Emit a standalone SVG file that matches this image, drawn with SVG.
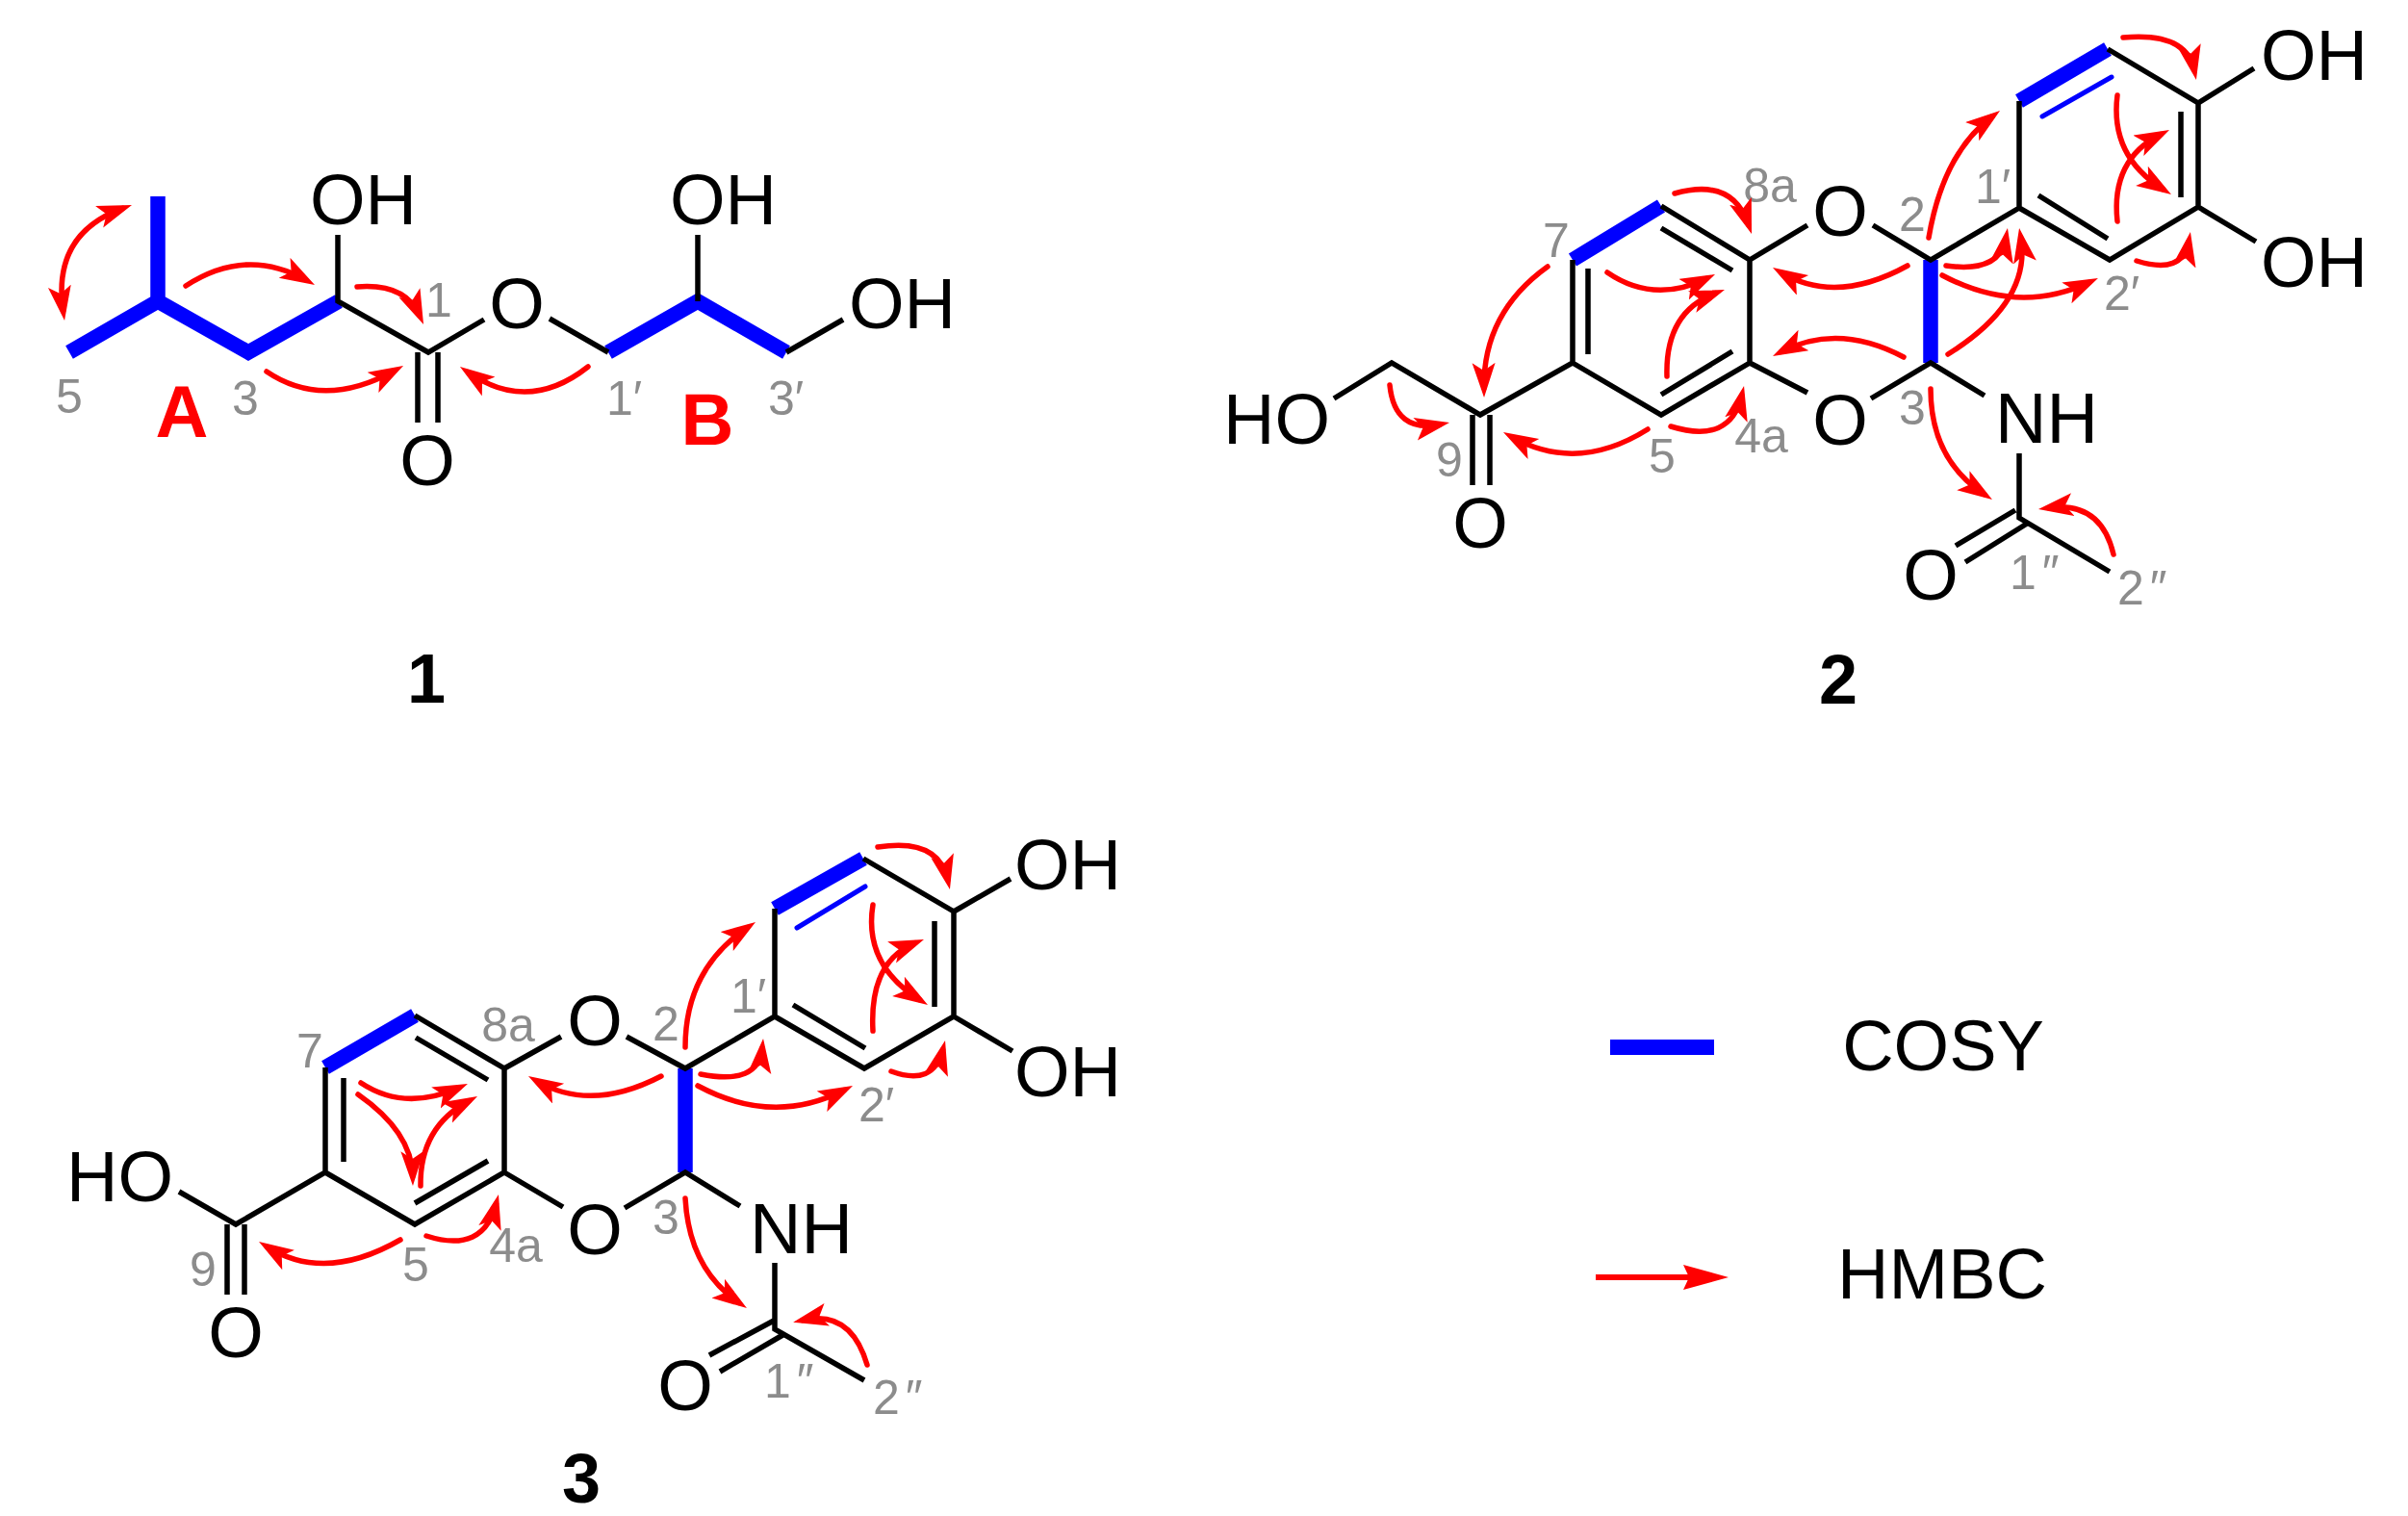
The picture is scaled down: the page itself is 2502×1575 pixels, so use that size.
<svg xmlns="http://www.w3.org/2000/svg" width="2502" height="1575" viewBox="0 0 2502 1575">
<style>
text{font-family:"Liberation Sans",Arial,sans-serif}
.a{font-size:74px;fill:#000}
.g{font-size:50px;fill:#8c8c8c}
.p{letter-spacing:6px}
.n{font-size:72px;font-weight:bold;fill:#000}
.r{font-size:76px;font-weight:bold;fill:#f00}
.k{fill:none;stroke:#000;stroke-width:5.5;stroke-linecap:butt;stroke-linejoin:miter}
.b{fill:none;stroke:#00f;stroke-width:15.5;stroke-linejoin:miter;stroke-linecap:butt}
.t{fill:none;stroke:#00f;stroke-width:5;stroke-linecap:round}
.h{fill:none;stroke:#f00;stroke-width:5.5;stroke-linecap:round;marker-end:url(#ah)}
.d{fill:none;stroke:#f00;stroke-width:5.5;stroke-linecap:round;marker-end:url(#ah);marker-start:url(#ah)}
</style>
<defs>
<marker id="ah" markerUnits="userSpaceOnUse" markerWidth="38" markerHeight="26" refX="26" refY="12" orient="auto-start-reverse"><path d="M36,12 L0,0 L8,12 L0,24 Z" fill="#f00"/></marker>
<marker id="al" markerUnits="userSpaceOnUse" markerWidth="50" markerHeight="28" refX="33" refY="13" orient="auto"><path d="M47,13 L0,0 L6,13 L0,26 Z" fill="#f00"/></marker>
</defs>
<rect width="2502" height="1575" fill="#fff"/>
<g id="compound-1">
<path class="b" d="M164,204V313M72,366L164,313L258,366L352,313M632,366L725,313L817,366"/>
<path class="k" d="M351,244V313L445,366L503,332M434,366V439M455,366V439M571,331L632,366M725,244V313M817,366L876,332"/>
<text class="a" x="322" y="233">OH</text><text class="a" x="696" y="233">OH</text><text class="a" x="882" y="341">OH</text>
<text class="a" x="537" y="341" text-anchor="middle">O</text><text class="a" x="444" y="504" text-anchor="middle">O</text>
<text class="g" x="72" y="429" text-anchor="middle">5</text><text class="g" x="255" y="431" text-anchor="middle">3</text><text class="g" x="456" y="329" text-anchor="middle">1</text><text class="g" x="630" y="431">1′</text><text class="g" x="798" y="431">3′</text>
<text class="r" x="189" y="454" text-anchor="middle">A</text><text class="r" x="735" y="462" text-anchor="middle">B</text>
<text class="n" x="443" y="730" text-anchor="middle">1</text>
</g>
<g id="compound-2">
<path class="b" d="M2006,270V377M1634,270L1726,214M2098,105L2190,51"/>
<path class="t" d="M2122,121L2194,80"/>
<path class="k" d="M1386,414L1446,377L1538,431L1634,377V270M1650,279V368M1726,214L1818,270V377L1726,431L1634,377M1726,237L1800,281M1800,365L1726,410M1818,270L1878,234M1946,234L2006,270L2098,216V105M2190,51L2284,107V215L2192,270L2098,216M2266,116V205M2190,248L2118,203M2284,107L2342,71M2284,215L2344,251M1818,377L1878,408M1944,414L2006,377L2062,411M1530,431V504M1548,431V504M2098,471V538L2192,594M2094,530L2032,567M2106,544L2042,584"/>
<text class="a" x="1271" y="461">HO</text><text class="a" x="1912" y="245" text-anchor="middle">O</text><text class="a" x="1912" y="462" text-anchor="middle">O</text><text class="a" x="2349" y="83">OH</text><text class="a" x="2349" y="298">OH</text><text class="a" x="2073" y="460">NH</text><text class="a" x="1538" y="569" text-anchor="middle">O</text><text class="a" x="2006" y="623" text-anchor="middle">O</text>
<text class="g" x="1839" y="210" text-anchor="middle">8a</text><text class="g" x="1617" y="267" text-anchor="middle">7</text><text class="g" x="1987" y="240" text-anchor="middle">2</text><text class="g" x="2052" y="211">1′</text><text class="g" x="2186" y="322">2′</text><text class="g" x="1987" y="441" text-anchor="middle">3</text><text class="g" x="1830" y="470" text-anchor="middle">4a</text><text class="g" x="1727" y="491" text-anchor="middle">5</text><text class="g" x="1506" y="495" text-anchor="middle">9</text><text class="g p" x="2088" y="612">1″</text><text class="g p" x="2200" y="628">2″</text>
<text class="n" x="1910" y="731" text-anchor="middle">2</text>
</g>
<g id="compound-3">
<path class="b" d="M712,1110V1218M338,1109L431,1055M805,944L897,892"/>
<path class="t" d="M828,964L899,921"/>
<path class="k" d="M186,1238L245,1272L338,1218V1109M357,1120V1207M431,1055L524,1110V1218L431,1272L338,1218M432,1078L507,1122M507,1206L431,1250M524,1110L583,1077M651,1077L712,1110L805,1056V944M897,892L991,947V1056L898,1110L805,1056M971,957V1046M899,1089L824,1044M991,947L1050,913M991,1056L1052,1092M524,1218L585,1254M649,1255L712,1218L769,1253M236,1272V1345M254,1272V1345M805,1312V1381L898,1434M804,1372L737,1408M815,1386L748,1425"/>
<text class="a" x="69" y="1248">HO</text><text class="a" x="618" y="1086" text-anchor="middle">O</text><text class="a" x="618" y="1303" text-anchor="middle">O</text><text class="a" x="1054" y="924">OH</text><text class="a" x="1054" y="1139">OH</text><text class="a" x="779" y="1302">NH</text><text class="a" x="245" y="1410" text-anchor="middle">O</text><text class="a" x="712" y="1465" text-anchor="middle">O</text>
<text class="g" x="528" y="1082" text-anchor="middle">8a</text><text class="g" x="322" y="1109" text-anchor="middle">7</text><text class="g" x="692" y="1081" text-anchor="middle">2</text><text class="g" x="759" y="1052">1′</text><text class="g" x="892" y="1165">2′</text><text class="g" x="692" y="1282" text-anchor="middle">3</text><text class="g" x="536" y="1311" text-anchor="middle">4a</text><text class="g" x="432" y="1331" text-anchor="middle">5</text><text class="g" x="211" y="1336" text-anchor="middle">9</text><text class="g p" x="794" y="1452">1″</text><text class="g p" x="907" y="1469">2″</text>
<text class="n" x="604" y="1561" text-anchor="middle">3</text>
</g>
<g id="connectors">
<path class="d" d="M65.6,323.1Q54,243 127.6,216.4"/>
<path class="h" d="M193,297Q256,256 318.3,291.1"/>
<path class="h" d="M371,298Q421,294 436,327.9"/>
<path class="h" d="M277,386Q336,426 410.3,384.8"/>
<path class="h" d="M611,381Q549,430 486.2,386.7"/>
<path class="h" d="M2206,39Q2272,33 2280,73.2"/>
<path class="h" d="M2004,247Q2019,159 2070,121"/>
<path class="h" d="M2200,99Q2192,162 2247.5,196.7"/>
<path class="h" d="M2200,230Q2193,166 2245.1,139.5"/>
<path class="h" d="M1740,201Q1800,184 1816.8,233.5"/>
<path class="h" d="M2022,276Q2078,284 2084.3,246.9"/>
<path class="h" d="M2024,368Q2111,314 2099.7,246.9"/>
<path class="h" d="M2018,286Q2097,328 2170.9,293.3"/>
<path class="h" d="M2220,271Q2268,286 2274.2,250.8"/>
<path class="h" d="M1982,276Q1908,317 1850.6,283.1"/>
<path class="h" d="M1978,371Q1910,335 1850.9,365.4"/>
<path class="h" d="M1608,277Q1541,325 1541.9,403"/>
<path class="h" d="M1670,283Q1718,316 1773,289.4"/>
<path class="h" d="M1732,391Q1730,324 1782.6,304.5"/>
<path class="h" d="M1736,443Q1798,462 1809.8,410.7"/>
<path class="h" d="M1712,446Q1639,492 1570.7,453.9"/>
<path class="h" d="M1444,400Q1449,450 1496.2,440.9"/>
<path class="h" d="M2006,404Q2006,477 2061.6,513.5"/>
<path class="h" d="M2196,576Q2183,520 2127.9,527.6"/>
<path class="h" d="M912,880Q975,870 984.8,914.2"/>
<path class="h" d="M712,1088Q712,1007 776.7,963.6"/>
<path class="h" d="M907,940Q897,1002 955.5,1038.7"/>
<path class="h" d="M907,1071Q903,999 950.7,979.7"/>
<path class="h" d="M728,1116Q788,1128 792,1088.9"/>
<path class="h" d="M725,1128Q803,1170 877.1,1132.5"/>
<path class="h" d="M926,1113Q970,1129 979.6,1090.7"/>
<path class="h" d="M687,1118Q614,1156 557.6,1123"/>
<path class="h" d="M375,1125Q420,1155 476.8,1130"/>
<path class="h" d="M372,1137Q428,1176 428.8,1222"/>
<path class="h" d="M437,1232Q436,1171 487.2,1143.7"/>
<path class="h" d="M443,1284Q502,1303 515.5,1250.7"/>
<path class="h" d="M416,1288Q338,1333 277.5,1295.3"/>
<path class="h" d="M712,1245Q716,1318 767.7,1353.4"/>
<path class="h" d="M901,1418Q884,1360 833.9,1371.6"/>
</g>
<g id="legend">
<path d="M1673,1088H1781" fill="none" stroke="#00f" stroke-width="16"/>
<text x="2019" y="1112" text-anchor="middle" style="font-size:74px;fill:#000">COSY</text>
<path d="M1658,1327H1782" fill="none" stroke="#f00" stroke-width="6" marker-end="url(#al)"/>
<text x="2018" y="1349" text-anchor="middle" style="font-size:74px;fill:#000">HMBC</text>
</g>
</svg>
